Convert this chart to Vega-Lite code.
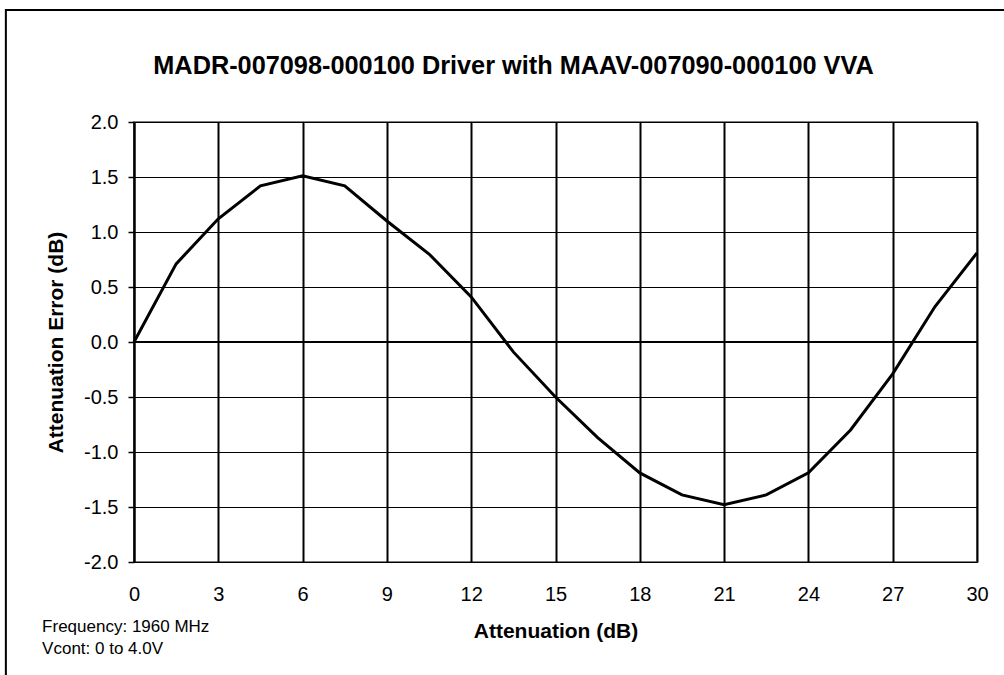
{
  "$schema": "https://vega.github.io/schema/vega-lite/v6.json",
  "width": 843,
  "height": 440,
  "autosize": {"type": "none"},
  "padding": {"left": 134, "top": 122, "right": 27, "bottom": 113},
  "background": "white",
  "config": {
    "font": "Liberation Sans",
    "view": {"stroke": "#808080", "strokeWidth": 2}
  },
  "title": {
    "text": "MADR-007098-000100 Driver with MAAV-007090-000100 VVA",
    "font": "Liberation Sans",
    "fontSize": 25.3,
    "fontWeight": "bold",
    "color": "black",
    "anchor": "middle",
    "frame": "group",
    "dx": -42,
    "baseline": "alphabetic",
    "offset": -90
  },
  "data": {
    "values": [
      {"att": 0, "err": 0.0},
      {"att": 1.5, "err": 0.71},
      {"att": 3, "err": 1.12},
      {"att": 4.5, "err": 1.42},
      {"att": 6, "err": 1.51},
      {"att": 7.5, "err": 1.42},
      {"att": 9, "err": 1.1},
      {"att": 10.5, "err": 0.8},
      {"att": 12, "err": 0.41},
      {"att": 13.5, "err": -0.09},
      {"att": 15, "err": -0.5},
      {"att": 16.5, "err": -0.87},
      {"att": 18, "err": -1.19},
      {"att": 19.5, "err": -1.39},
      {"att": 21, "err": -1.48},
      {"att": 22.5, "err": -1.39},
      {"att": 24, "err": -1.19},
      {"att": 25.5, "err": -0.8},
      {"att": 27, "err": -0.29},
      {"att": 28.5, "err": 0.32},
      {"att": 30, "err": 0.81}
    ]
  },
  "layer": [
    {
      "mark": {"type": "line", "color": "black", "strokeWidth": 3, "clip": false},
      "encoding": {
        "x": {
          "field": "att",
          "type": "quantitative",
          "scale": {"domain": [0, 30], "nice": false, "zero": false},
          "axis": {
            "title": "Attenuation (dB)",
            "values": [0, 3, 6, 9, 12, 15, 18, 21, 24, 27, 30],
            "format": "d",
            "domain": false,
            "ticks": false,
            "grid": true,
            "gridColor": "black",
            "gridWidth": 2,
            "gridOpacity": 1,
            "labelFontSize": 20,
            "labelColor": "black",
            "labelPadding": 22,
            "labelFlush": false,
            "titleFontSize": 21,
            "titleFontWeight": "bold",
            "titleColor": "black",
            "titlePadding": 16
          }
        },
        "y": {
          "field": "err",
          "type": "quantitative",
          "scale": {"domain": [-2, 2], "nice": false, "zero": false},
          "axis": {
            "title": "Attenuation Error (dB)",
            "values": [-2, -1.5, -1, -0.5, 0, 0.5, 1, 1.5, 2],
            "format": ".1f",
            "labelExpr": "replace(datum.label, '\u2212', '-')",
            "domain": true,
            "domainColor": "black",
            "domainWidth": 2,
            "ticks": true,
            "tickSize": 6,
            "tickColor": "black",
            "tickWidth": 1.5,
            "grid": true,
            "gridColor": "black",
            "gridWidth": 1,
            "gridOpacity": 1,
            "labelFontSize": 20,
            "labelColor": "black",
            "labelPadding": 10,
            "labelFlush": false,
            "titleFontSize": 21,
            "titleFontWeight": "bold",
            "titleColor": "black",
            "titlePadding": 17
          }
        }
      }
    },
    {
      "data": {"values": [{}]},
      "mark": {"type": "rule", "color": "black", "strokeWidth": 2},
      "encoding": {"y": {"datum": 0}}
    },
    {
      "data": {"values": [{}]},
      "mark": {"type": "text", "align": "left", "baseline": "alphabetic", "fontSize": 17, "fontWeight": "normal", "color": "black", "font": "Liberation Sans", "clip": false},
      "encoding": {
        "x": {"datum": -3.27},
        "y": {"datum": -2.634},
        "text": {"value": "Frequency: 1960 MHz"}
      }
    },
    {
      "data": {"values": [{}]},
      "mark": {"type": "text", "align": "left", "baseline": "alphabetic", "fontSize": 17, "fontWeight": "normal", "color": "black", "font": "Liberation Sans", "clip": false},
      "encoding": {
        "x": {"datum": -3.27},
        "y": {"datum": -2.836},
        "text": {"value": "Vcont: 0 to 4.0V"}
      }
    },
    {
      "data": {"values": [{}]},
      "mark": {"type": "rect", "fill": null, "fillOpacity": 0, "stroke": "black", "strokeWidth": 2, "clip": false},
      "encoding": {
        "x": {"datum": -4.56},
        "x2": {"datum": 32},
        "y": {"datum": 3.018},
        "y2": {"datum": -4}
      }
    }
  ]
}
